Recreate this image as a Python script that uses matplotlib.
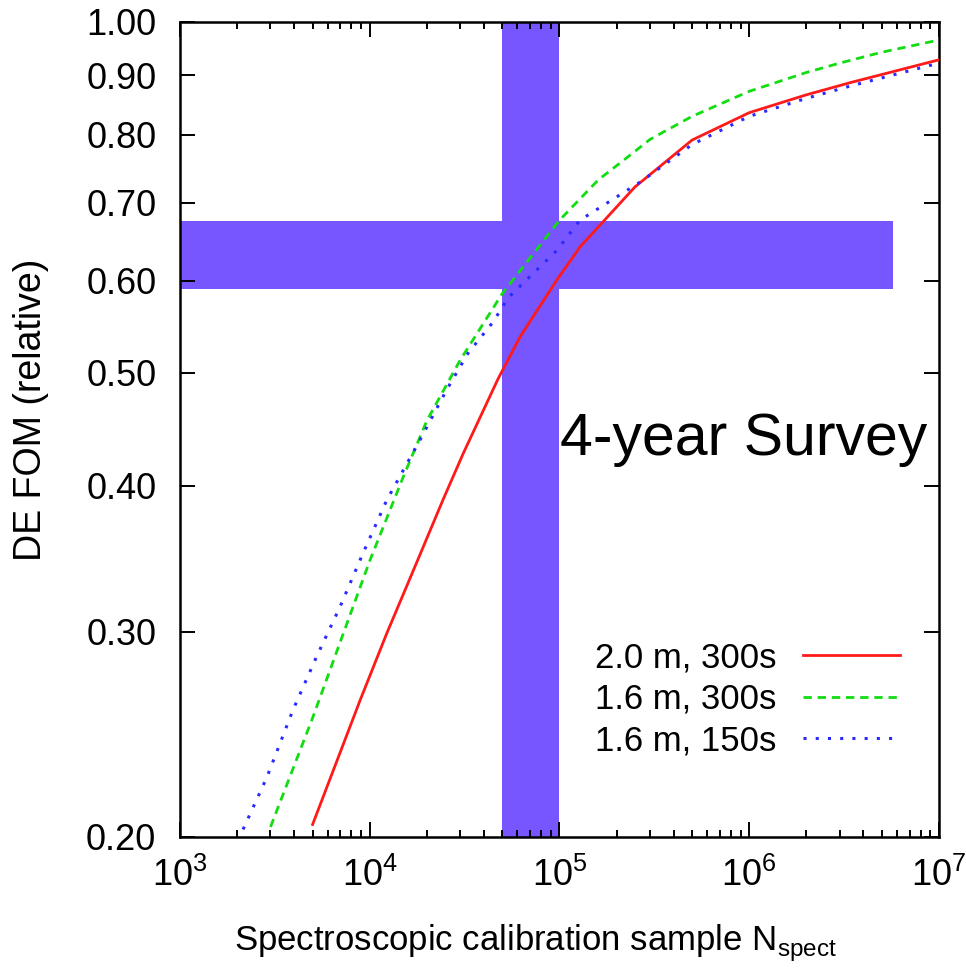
import matplotlib
matplotlib.use("Agg")
import matplotlib.pyplot as plt
from matplotlib.ticker import FixedLocator, FormatStrFormatter, LogLocator, NullFormatter, NullLocator

plt.rcParams["font.family"] = ["Liberation Sans", "DejaVu Sans"]

# survey curves: DE figure of merit vs spectroscopic calibration sample size
red_n = [5e3, 8.9e3, 1.23e4, 1.73e4, 2.43e4, 3.1e4, 4.74e4, 6.2e4, 9.7e4, 1.28e5, 2.5e5, 5e5, 1e6, 2e6,
         3.4e6, 1e7]
red_fom = [0.205, 0.262, 0.299, 0.341, 0.389, 0.426, 0.494, 0.537, 0.601, 0.641, 0.722, 0.792, 0.836, 0.866,
           0.887, 0.928]

green_n = [3e3, 5e3, 1e4, 1.5e4, 2e4, 3e4, 5e4, 1e5, 1.6e5, 2.2e5, 3e5, 5e5, 1e6, 2e6, 3e6, 5e6, 1e7]
green_fom = [0.204, 0.253, 0.345, 0.407, 0.455, 0.513, 0.585, 0.676, 0.732, 0.762, 0.793, 0.83, 0.872, 0.905,
             0.922, 0.942, 0.965]

blue_n = [2.15e3, 2.87e3, 3.94e3, 5.27e3, 6.97e3, 9.2e3, 1.23e4, 1.84e4, 2.55e4, 3.3e4, 4.47e4, 5.36e4,
          9.7e4, 1.28e5, 2.7e5, 5e5, 1e6, 2e6, 3.4e6, 1e7]
blue_fom = [0.203, 0.225, 0.257, 0.286, 0.315, 0.350, 0.389, 0.438, 0.484, 0.520, 0.553, 0.580,
            0.637, 0.676, 0.730, 0.785, 0.830, 0.860, 0.881, 0.922]

series_labels = ["2.0 m, 300s", "1.6 m, 300s", "1.6 m, 150s"]

# shaded target regions
vband_n = [5e4, 1e5]
hband_n = [1e3, 5.7e6]
hband_fom = [0.59, 0.675]

y_ticks = [0.20, 0.30, 0.40, 0.50, 0.60, 0.70, 0.80, 0.90, 1.00]
x_range = [1e3, 1e7]
y_range = [0.2, 1.0]

band_color = "#7755ff"

fig = plt.figure(figsize=(9.66, 9.72), dpi=100)
ax = fig.add_axes([0.1863, 0.1389, 0.7857, 0.8385])
ax.set_xscale("log")
ax.set_yscale("log")

ax.axvspan(vband_n[0], vband_n[1], color=band_color, lw=0, zorder=1)
ax.fill_between(hband_n, hband_fom[0], hband_fom[1], color=band_color, lw=0, zorder=1)

l1, = ax.plot(red_n, red_fom, color="#ff1a1a", lw=2.0, zorder=3)
l2, = ax.plot(green_n, green_fom, color="#11dd11", lw=2.0, dashes=(3.0, 2.1), zorder=3)
l3, = ax.plot(blue_n, blue_fom, color="#2a2aff", lw=2.2, dashes=(1.0, 3.0), zorder=3)

ax.set_xlim(*x_range)
ax.set_ylim(*y_range)

ax.yaxis.set_major_locator(FixedLocator(y_ticks))
ax.yaxis.set_major_formatter(FormatStrFormatter("%.2f"))
ax.yaxis.set_minor_locator(NullLocator())
ax.xaxis.set_minor_locator(LogLocator(base=10, subs=range(2, 10)))
ax.xaxis.set_minor_formatter(NullFormatter())

ax.tick_params(which="both", direction="in", top=True, right=True, width=1.4, labelsize=26)
ax.tick_params(which="major", length=11)
ax.tick_params(which="minor", length=5)
ax.tick_params(axis="y", pad=17)
ax.tick_params(axis="x", pad=15)
for sp in ax.spines.values():
    sp.set_linewidth(1.8)

ax.set_ylabel("DE FOM (relative)", fontsize=27)
ax.yaxis.set_label_coords(-0.172, 0.524)
ax.set_xlabel(r"Spectroscopic calibration sample N$_\mathdefault{spect}$", fontsize=25)
ax.xaxis.set_label_coords(0.468, -0.106)

ax.text(0.984, 0.4687, "4-year Survey", transform=ax.transAxes, ha="right", va="baseline",
        fontsize=42.5, zorder=4)

ax.legend([l1, l2, l3], series_labels, loc="center right", bbox_to_anchor=(0.9486, 0.169),
          frameon=False, markerfirst=False, handlelength=2.8, handletextpad=0.75,
          labelspacing=0.25, borderpad=0, borderaxespad=0, fontsize=25)

fig.savefig("out.png", dpi=100)
